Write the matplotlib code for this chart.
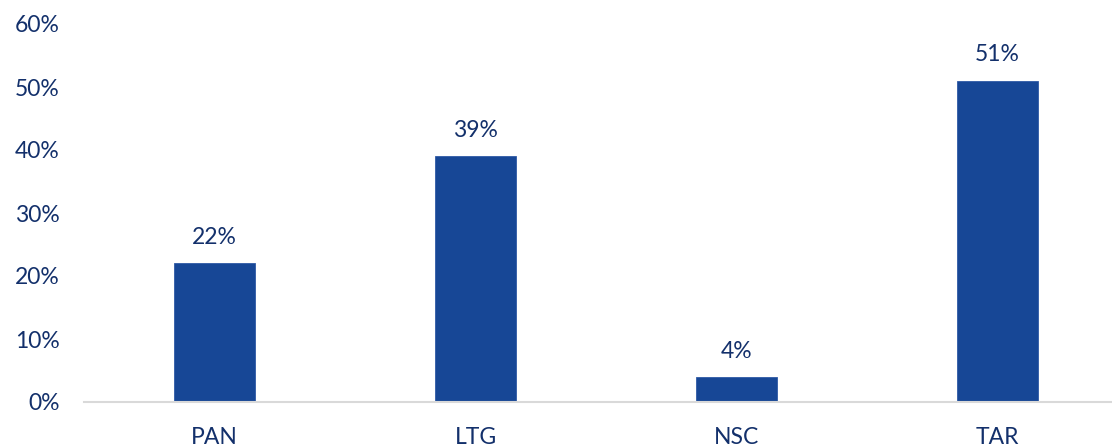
import numpy as np
import matplotlib.pyplot as plt

# datos del grafico
categorias = ["PAN", "LTG", "NSC", "TAR"]
valores = [22, 39, 4, 51]
ticks_y = [0, 10, 20, 30, 40, 50, 60]

color_barra = "#174796"
color_texto = "#13306B"

plt.rcParams['font.family'] = ['Lato', 'DejaVu Sans']

fig = plt.figure(figsize=(11.12, 4.46), dpi=100)
ax = fig.add_axes([84/1112, 44/446, 1044/1112, 378/446])

x = np.arange(len(categorias))
barras = ax.bar(x, valores, width=0.31, color=color_barra, edgecolor="#2E5AA6", linewidth=0.6)

# etiquetas encima de cada barra
for xi, v in zip(x, valores):
    ax.annotate(f"{v}%", (xi, v), xytext=(0, 11), textcoords="offset points",
                ha="center", va="bottom", fontsize=16.5, color=color_texto)

ax.set_xlim(-0.5, len(categorias) - 0.5)
ax.set_ylim(0, 60)
ax.set_yticks(ticks_y)
ax.set_yticklabels([f"{t}%" for t in ticks_y])
ax.set_xticks(x)
ax.set_xticklabels(categorias)
ax.tick_params(axis="y", length=0, pad=17.5, labelsize=16.5, labelcolor=color_texto)
ax.tick_params(axis="x", length=0, pad=18, labelsize=16.5, labelcolor=color_texto)

for s in ["top", "right", "left"]:
    ax.spines[s].set_visible(False)
ax.spines["bottom"].set_color("#D9D9D9")
ax.spines["bottom"].set_linewidth(1.5)

fig.savefig("out.png", dpi=100)
